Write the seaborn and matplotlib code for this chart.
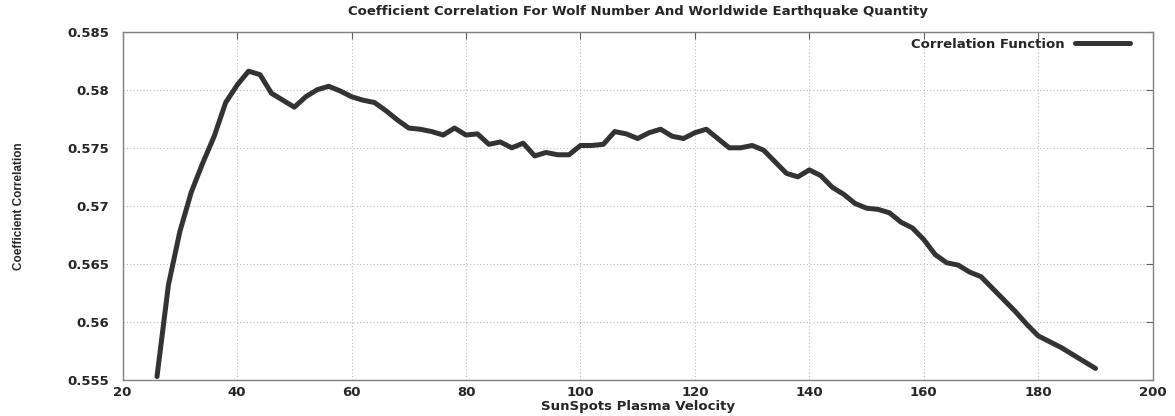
import matplotlib
matplotlib.use("Agg")
import matplotlib.pyplot as plt
import seaborn as sns
import pandas as pd

# data
velocity = [26, 28, 30, 32, 34, 36, 38, 40, 42, 44, 46, 48, 50, 52, 54, 56, 58, 60,
            62, 64, 66, 68, 70, 72, 74, 76, 78, 80, 82, 84, 86, 88, 90, 92, 94, 96,
            98, 100, 102, 104, 106, 108, 110, 112, 114, 116, 118, 120, 122, 124, 126,
            128, 130, 132, 134, 136, 138, 140, 142, 144, 146, 148, 150, 152, 154, 156,
            158, 160, 162, 164, 166, 168, 170, 172, 174, 176, 178, 180, 182, 184, 186,
            188, 190]
correlation = [0.5553, 0.5632, 0.5678, 0.5712, 0.5737, 0.5760, 0.5789, 0.5804, 0.5816,
               0.5813, 0.5797, 0.5791, 0.5785, 0.5794, 0.5800, 0.5803, 0.5799, 0.5794,
               0.5791, 0.5789, 0.5782, 0.5774, 0.5767, 0.5766, 0.5764, 0.5761, 0.5767,
               0.5761, 0.5762, 0.5753, 0.5755, 0.5750, 0.5754, 0.5743, 0.5746, 0.5744,
               0.5744, 0.5752, 0.5752, 0.5753, 0.5764, 0.5762, 0.5758, 0.5763, 0.5766,
               0.5760, 0.5758, 0.5763, 0.5766, 0.5758, 0.5750, 0.5750, 0.5752, 0.5748,
               0.5738, 0.5728, 0.5725, 0.5731, 0.5726, 0.5716, 0.5710, 0.5702, 0.5698,
               0.5697, 0.5694, 0.5686, 0.5681, 0.5671, 0.5658, 0.5651, 0.5649, 0.5643,
               0.5639, 0.5629, 0.5619, 0.5609, 0.5598, 0.5588, 0.5583, 0.5578, 0.5572,
               0.5566, 0.5560]

x_ticks = [20, 40, 60, 80, 100, 120, 140, 160, 180, 200]
y_ticks = [0.555, 0.56, 0.565, 0.57, 0.575, 0.58, 0.585]
y_tick_labels = ['0.555', '0.56', '0.565', '0.57', '0.575', '0.58', '0.585']

df = pd.DataFrame({'velocity': velocity, 'correlation': correlation})

sns.set_style('white')
plt.rcParams['font.family'] = ['DejaVu Sans']
plt.rcParams['font.weight'] = 'bold'

fig = plt.figure(figsize=(11.75, 4.16), dpi=100)
ax = fig.add_axes([0.1044, 0.0865, 0.8766, 0.8373])

sns.lineplot(data=df, x='velocity', y='correlation', ax=ax, color='#333333',
             linewidth=3.6, label='Correlation Function')

ax.set_xlim(20, 200)
ax.set_ylim(0.555, 0.585)
ax.set_xticks(x_ticks)
ax.set_xticklabels([str(t) for t in x_ticks])
ax.set_yticks(y_ticks)
ax.set_yticklabels(y_tick_labels)

# gnuplot look: dotted grid, inward mirrored ticks, grey border
ax.grid(True, linestyle=(0, (1, 2)), color='#bbbbbb', linewidth=0.8)
for s in ax.spines.values():
    s.set_color('#808080')
    s.set_linewidth(1.0)
ax.tick_params(direction='in', length=5, width=0.8, color='#606060',
               top=True, right=True, labelsize=9.5)
ax.tick_params(axis='y', pad=10)
ax.tick_params(axis='x', pad=4)
for lab in ax.get_xticklabels() + ax.get_yticklabels():
    lab.set_fontweight('bold')

ax.set_title('Coefficient Correlation For Wolf Number And Worldwide Earthquake Quantity',
             fontsize=9.5, fontweight='bold', pad=12)
ax.set_xlabel('SunSpots Plasma Velocity', fontsize=9.5, fontweight='bold', labelpad=1)
ax.set_ylabel('Coefficient Correlation', fontsize=8.5, fontweight='bold',
              family=['Liberation Sans'], labelpad=30)

leg = ax.legend(loc='upper right', bbox_to_anchor=(0.984, 1.0), frameon=False,
                markerfirst=False, handlelength=4.2, fontsize=9.5, borderaxespad=0.05)
for t in leg.get_texts():
    t.set_fontweight('bold')

plt.savefig('out.png', dpi=100)
